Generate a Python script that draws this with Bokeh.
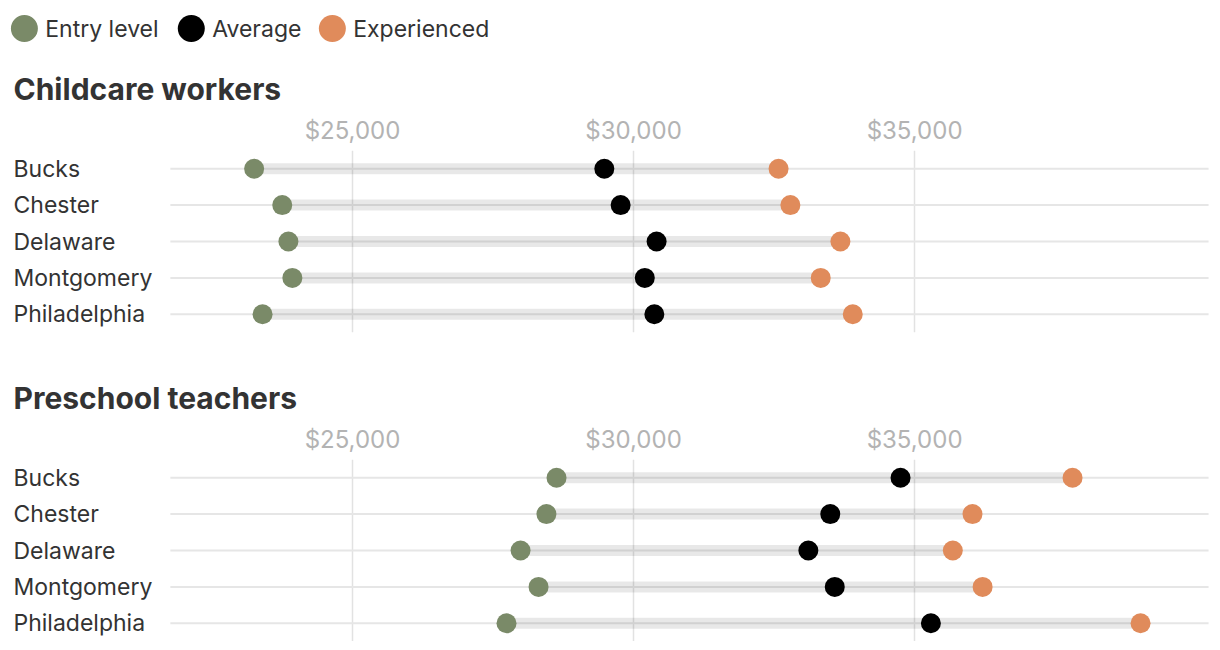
from bokeh.plotting import figure
from bokeh.layouts import column
from bokeh.models import FactorRange, NumeralTickFormatter, FixedTicker, ColumnDataSource
from bokeh.core.properties import value
from bokeh.embed import file_html
from bokeh.resources import INLINE

counties = ["Bucks", "Chester", "Delaware", "Montgomery", "Philadelphia"]
series_names = ["Entry level", "Average", "Experienced"]
series_colors = ["#7a8a68", "#000000", "#e08b5b"]
tick_values = [25000, 30000, 35000]

childcare_entry = [23250, 23750, 23860, 23930, 23400]
childcare_avg = [29480, 29770, 30410, 30200, 30370]
childcare_exp = [32580, 32790, 33680, 33330, 33900]

preschool_entry = [28630, 28450, 27990, 28310, 27740]
preschool_avg = [34750, 33500, 33110, 33580, 35290]
preschool_exp = [37810, 36030, 35680, 36210, 39020]

FONT = "Inter"
X_START, X_END = 18880, 40300
ROW_START, ROW_END = 21760, 40230
W = 1204
LEFT = 8
PX = (X_END - X_START) / W


def legend_fig():
    H = 62
    p = figure(width=W + LEFT, height=H, x_range=(0, W + LEFT), y_range=(0, H),
               output_backend="svg", toolbar_location=None,
               x_axis_location=None, y_axis_location=None,
               min_border=0, outline_line_color=None)
    p.grid.visible = False
    xs = [16, 184, 326]
    src = ColumnDataSource(dict(x=xs, tx=[x + 21 for x in xs], y=[H - 28] * 3,
                                name=series_names, color=series_colors))
    p.scatter("x", "y", source=src, size=27, color="color", line_color=None)
    p.text("tx", "y", text="name", source=src, text_font=value(FONT),
           text_font_size="23px", text_color="#333333", text_baseline="middle")
    return p


def panel(title, entry, avg, exp, bottom):
    p = figure(frame_width=W, frame_height=182,
               x_range=(X_START, X_END), y_range=FactorRange(*counties[::-1]),
               output_backend="svg", toolbar_location=None,
               x_axis_location="above", y_axis_location=None,
               min_border_left=LEFT, min_border_right=0, min_border_top=0,
               min_border_bottom=bottom, outline_line_color=None)
    p.title.text = title
    p.title.text_font = FONT
    p.title.text_font_size = "30px"
    p.title.text_font_style = "bold"
    p.title.text_color = "#333333"
    p.title.offset = 5
    p.title.standoff = 12
    ax = p.xaxis[0]
    ax.ticker = FixedTicker(ticks=tick_values)
    ax.formatter = NumeralTickFormatter(format="$0,0")
    ax.axis_line_color = None
    ax.major_tick_line_color = None
    ax.minor_tick_line_color = None
    ax.major_label_text_font = FONT
    ax.major_label_text_font_size = "24px"
    ax.major_label_text_color = "#b3b3b3"
    ax.major_label_standoff = 0
    p.xgrid.grid_line_color = "#e2e2e2"
    p.xgrid.grid_line_width = 1.5
    p.ygrid.visible = False

    src = ColumnDataSource(dict(county=counties, entry=entry, avg=avg, exp=exp,
                                r0=[ROW_START] * 5, r1=[ROW_END] * 5,
                                lx=[X_START + 5 * PX] * 5))
    p.segment("r0", "county", "r1", "county", source=src, line_color="#e6e6e6", line_width=2)
    p.segment("entry", "county", "exp", "county", source=src, line_color="#000000",
              line_alpha=0.09, line_width=11)
    p.scatter("entry", "county", source=src, size=20, color=series_colors[0], line_color=None)
    p.scatter("avg", "county", source=src, size=20, color=series_colors[1], line_color=None)
    p.scatter("exp", "county", source=src, size=20, color=series_colors[2], line_color=None)
    p.text("lx", "county", text="county", source=src, text_font=value(FONT),
           text_font_size="23px", text_color="#333333", text_baseline="middle")
    return p


p1 = panel("Childcare workers", childcare_entry, childcare_avg, childcare_exp, 39)
p2 = panel("Preschool teachers", preschool_entry, preschool_avg, preschool_exp, 0)
layout = column(legend_fig(), p1, p2, spacing=0)

open("out.html", "w").write(file_html(layout, INLINE))
